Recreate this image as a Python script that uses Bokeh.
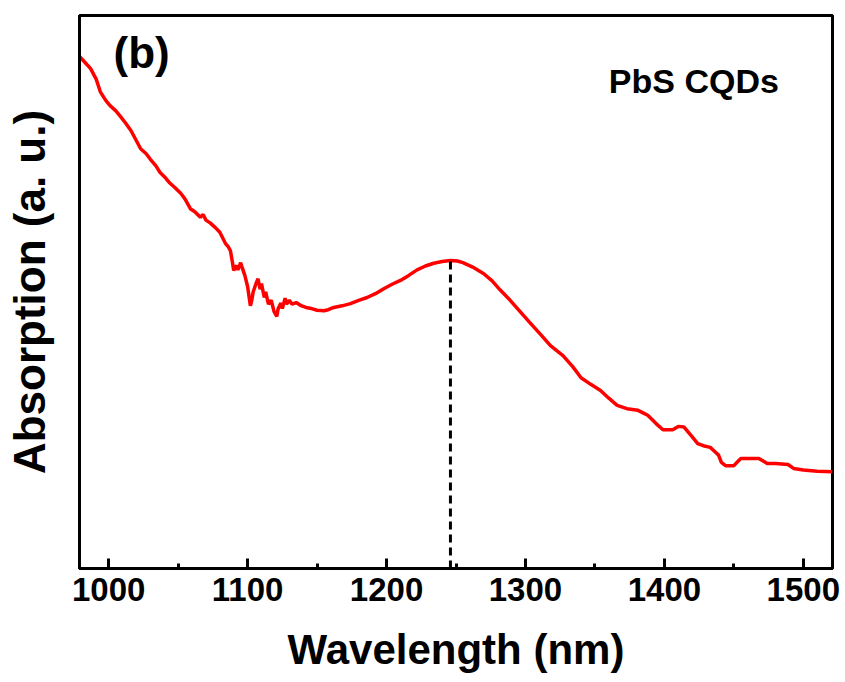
from bokeh.plotting import figure
from bokeh.models import Label, SingleIntervalTicker, FixedTicker, Range1d
from bokeh.embed import file_html
from bokeh.resources import INLINE

# Absorption spectrum of PbS CQDs (arbitrary units)
wavelength = [979, 983, 987, 991, 994, 998, 1001, 1005, 1008, 1012, 1016, 1019, 1023, 1027,
              1030, 1034, 1037, 1041, 1044, 1048, 1052, 1055, 1059, 1062, 1066, 1068, 1070,
              1073, 1077, 1080, 1084, 1086, 1087.6, 1089, 1090, 1092, 1093, 1095, 1096, 1098,
              1100, 1102, 1103, 1104, 1106, 1107.5, 1109, 1110, 1112, 1113, 1115, 1117, 1119,
              1121, 1122, 1124, 1125, 1127, 1128, 1130, 1132, 1135, 1138, 1142, 1146, 1150,
              1155, 1158, 1162, 1168, 1174, 1180, 1186, 1192, 1198, 1204, 1210, 1216, 1222,
              1228, 1234, 1240, 1246, 1251, 1255, 1262, 1270, 1276, 1282, 1289, 1296, 1303,
              1311, 1318, 1327, 1334, 1340, 1347, 1354, 1360, 1366, 1373, 1381, 1385, 1388,
              1394, 1399, 1403, 1406, 1410, 1414, 1419, 1424, 1428, 1433, 1436, 1439, 1441,
              1444, 1450, 1453, 1455, 1462, 1468, 1472, 1474, 1480, 1489, 1493, 1500, 1510, 1521]
absorption = [0.926, 0.915, 0.904, 0.885, 0.862, 0.846, 0.837, 0.828, 0.819, 0.806, 0.792, 0.778,
              0.759, 0.750, 0.740, 0.728, 0.716, 0.706, 0.697, 0.688, 0.678, 0.668, 0.650, 0.645,
              0.635, 0.640, 0.630, 0.625, 0.616, 0.608, 0.588, 0.582, 0.575, 0.555, 0.539, 0.548,
              0.540, 0.553, 0.545, 0.530, 0.510, 0.475, 0.485, 0.500, 0.515, 0.524, 0.505, 0.515,
              0.490, 0.500, 0.478, 0.485, 0.465, 0.456, 0.470, 0.480, 0.470, 0.489, 0.478, 0.485,
              0.478, 0.481, 0.476, 0.472, 0.470, 0.467, 0.466, 0.468, 0.472, 0.475, 0.479, 0.485,
              0.490, 0.497, 0.506, 0.514, 0.521, 0.530, 0.540, 0.547, 0.552, 0.555, 0.557, 0.556,
              0.553, 0.545, 0.533, 0.520, 0.503, 0.485, 0.465, 0.445, 0.423, 0.403, 0.385, 0.365,
              0.345, 0.333, 0.322, 0.308, 0.295, 0.289, 0.286, 0.281, 0.277, 0.262, 0.251, 0.251,
              0.251, 0.257, 0.256, 0.241, 0.226, 0.222, 0.219, 0.212, 0.205, 0.192, 0.186, 0.186,
              0.194, 0.199, 0.199, 0.199, 0.193, 0.190, 0.190, 0.188, 0.181, 0.178, 0.176, 0.175]
peak_wavelength = [1246]
peak_absorption = [0.557]

FONT = "Liberation Sans"

p = figure(width=845, height=682, x_range=Range1d(979, 1521), y_range=Range1d(0, 1),
           output_backend="svg", toolbar_location=None,
           min_border_left=79, min_border_right=13, min_border_top=15, min_border_bottom=114)
p.background_fill_color = "white"
p.border_fill_color = "white"
p.xgrid.visible = False
p.ygrid.visible = False
p.outline_line_color = "black"
p.outline_line_width = 3
p.outline_line_alpha = 1.0

p.line(wavelength, absorption, line_color="#ff0000", line_width=3.5)
p.segment(x0=peak_wavelength, y0=[0], x1=peak_wavelength, y1=peak_absorption,
          line_color="black", line_width=3, line_dash="8 5")

xa = p.xaxis[0]
xa.ticker = SingleIntervalTicker(interval=100, num_minor_ticks=2)
xa.major_tick_in = 10
xa.major_tick_out = 0
xa.minor_tick_in = 5
xa.minor_tick_out = 0
xa.major_tick_line_width = 3
xa.minor_tick_line_width = 3
xa.axis_line_width = 3
xa.major_label_text_font = FONT
xa.major_label_text_font_style = "bold"
xa.major_label_text_font_size = "33px"
xa.major_label_text_color = "black"
xa.major_label_standoff = 9
xa.axis_label = "Wavelength (nm)"
xa.axis_label_text_font = FONT
xa.axis_label_text_font_style = "bold"
xa.axis_label_text_font_size = "42px"
xa.axis_label_text_color = "black"
xa.axis_label_standoff = 22

ya = p.yaxis[0]
ya.ticker = FixedTicker(ticks=[])
ya.major_tick_in = 0
ya.major_tick_out = 0
ya.minor_tick_in = 0
ya.minor_tick_out = 0
ya.axis_line_width = 3
ya.axis_label = "Absorption (a. u.)"
ya.axis_label_text_font = FONT
ya.axis_label_text_font_style = "bold"
ya.axis_label_text_font_size = "44px"
ya.axis_label_text_color = "black"
ya.axis_label_standoff = 26

p.add_layout(Label(x=1003.5, y=0.933, text="(b)", text_font=FONT, text_font_style="bold",
                   text_font_size="44px", text_color="black", text_baseline="alphabetic"))
p.add_layout(Label(x=1360, y=0.881, text="PbS CQDs", text_font=FONT, text_font_style="bold",
                   text_font_size="34px", text_color="black", text_baseline="alphabetic"))

open("out.html", "w").write(file_html(p, INLINE))
